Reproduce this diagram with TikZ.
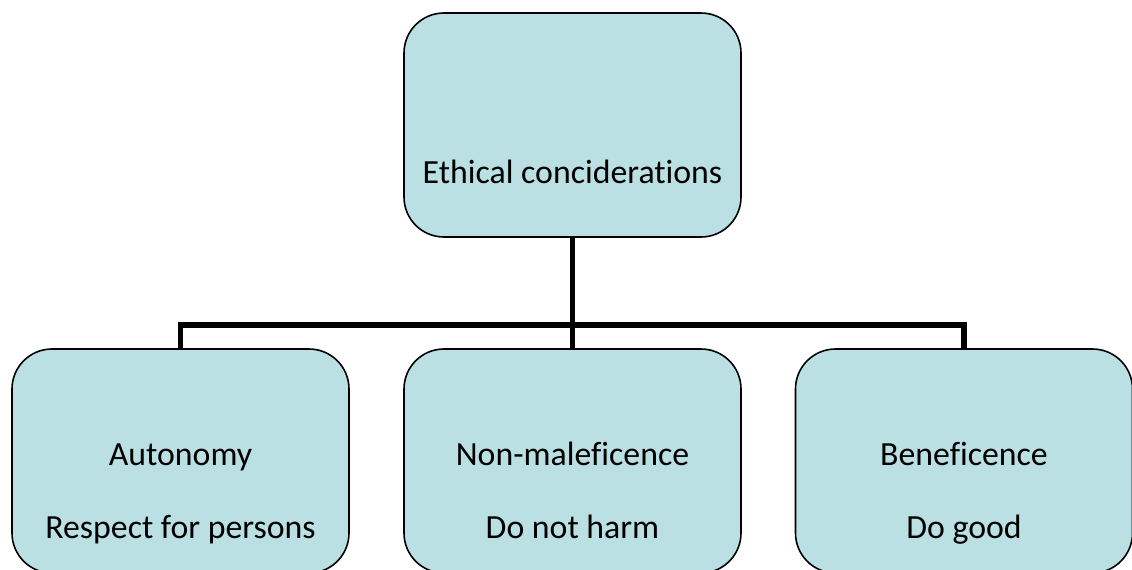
\documentclass[tikz,border=0pt]{standalone}
\usepackage{fontspec}
\setmainfont{Carlito}[Ligatures=NoCommon]
\definecolor{boxfill}{RGB}{186,224,227}

\tikzset{box_style/.style={draw=black, line width=0.8pt, fill=boxfill, rounded corners=20pt, minimum width=168.5pt, minimum height=112pt}}
\tikzset{txt_style/.style={anchor=base, inner sep=0pt, font=\fontsize{16.9}{20}\selectfont}}
\tikzset{link_style/.style={line width=2.6pt}}

\begin{document}
\begin{tikzpicture}[x=0.5pt, y=-0.5pt]
    \useasboundingbox (0,0) rectangle (1132,569);

    \node[box_style] (ethics) at (572.5,125){};
    \node[box_style] (auto) at (180.5,461){};
    \node[box_style] (nonmal) at (572.5,461){};
    \node[box_style] (benef) at (964,461){};

    \node[txt_style] (ethicst) at (572.5,183){Ethical conciderations};
    \node[txt_style] (autot) at (180.5,465){Autonomy};
    \node[txt_style] (autod) at (180.5,538){Respect for persons};
    \node[txt_style] (nonmalt) at (572.5,465){Non-maleficence};
    \node[txt_style] (nonmald) at (572.5,538){Do not harm};
    \node[txt_style] (beneft) at (964,465){Beneficence};
    \node[txt_style] (benefd) at (964,538){Do good};

    \coordinate (bar) at (572.5,325);
    \draw[link_style] (ethics.south) -- (nonmal.north);
    \draw[link_style] (auto.north) |- (bar) -| (benef.north);
    
\end{tikzpicture}
\end{document}
